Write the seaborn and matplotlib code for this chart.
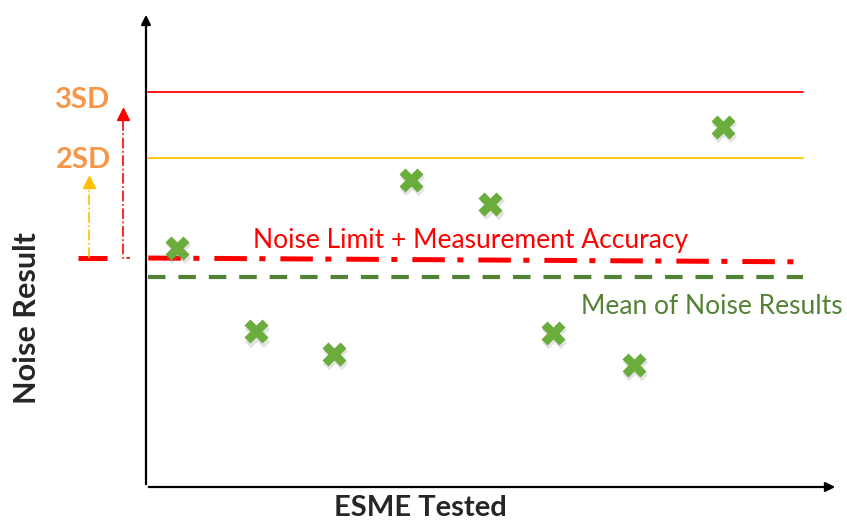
import matplotlib.pyplot as plt
import seaborn as sns
import pandas as pd

# Noise results for each ESME tested (arbitrary units, axis runs 0-10)
esme_index = [0.39, 1.40, 2.39, 3.37, 4.38, 5.17, 6.20, 7.34]
noise_result = [5.03, 3.28, 2.80, 6.46, 5.96, 3.24, 2.57, 7.58]

# Reference levels
level_3sd = 8.32
level_2sd = 6.93
noise_limit = [4.82, 4.74]   # limit + measurement accuracy (start, end)
mean_noise = 4.42
line_span = [0.03, 8.36]

RED = '#ff0000'
AMBER = '#ffc000'
ORANGE = '#f79646'
DARK_GREEN = '#548235'
MARK_GREEN = '#6aad3d'

sns.set_theme(style='white')
plt.rcParams['font.family'] = ['Lato', 'DejaVu Sans']

fig = plt.figure(figsize=(8.47, 5.26), dpi=100)
ax = fig.add_axes([146 / 847, 39 / 526, 692 / 847, 475 / 526])
ax.set_xlim(0, 8.8)
ax.set_ylim(0, 10)
for s in ax.spines.values():
    s.set_visible(False)
ax.set_xticks([])
ax.set_yticks([])

# axes with arrow heads
ax.annotate('', xy=(0, 1), xytext=(0, 0), xycoords='axes fraction',
            arrowprops=dict(arrowstyle='-|>', lw=1.6, color='black', mutation_scale=14))
ax.annotate('', xy=(1, 0), xytext=(0, 0), xycoords='axes fraction',
            arrowprops=dict(arrowstyle='-|>', lw=1.6, color='black', mutation_scale=14))

# SD lines
ax.plot(line_span, [level_3sd, level_3sd], color=RED, lw=1.3)
ax.plot(line_span, [level_2sd, level_2sd], color=AMBER, lw=1.3)

# noise limit and mean
ax.plot(line_span, noise_limit, color=RED, lw=3.6, dashes=(6.5, 2.5, 1.2, 3), solid_capstyle='butt')
ax.plot(line_span, [mean_noise, mean_noise], color=DARK_GREEN, lw=3, dashes=(4.2, 3.1))

# markers with soft shadow
df = pd.DataFrame({'esme': esme_index, 'noise': noise_result})
shadow = df.assign(esme=df['esme'] + 0.015, noise=df['noise'] - 0.07)
sns.scatterplot(data=shadow, x='esme', y='noise', marker='X', s=330, color='grey',
                alpha=0.22, linewidth=0, ax=ax, zorder=3)
sns.scatterplot(data=df, x='esme', y='noise', marker='X', s=300, color=MARK_GREEN,
                linewidth=0, ax=ax, zorder=4)
ax.set_xlabel('')
ax.set_ylabel('')

# left-hand SD arrows
ax.plot([-0.87, -0.50], [noise_limit[0], noise_limit[0]], color=RED, lw=3.6,
        solid_capstyle='butt', clip_on=False)
ax.plot([-0.73, -0.73], [noise_limit[0], 6.30], color=AMBER, lw=1.2,
        linestyle='-.', clip_on=False)
ax.plot([-0.73], [6.43], marker='^', markersize=9, color=AMBER, clip_on=False)
ax.plot([-0.29, -0.29, -0.20], [7.72, noise_limit[0], noise_limit[0]], color=RED,
        lw=1.2, linestyle='-.', clip_on=False)
ax.plot([-0.29], [7.85], marker='^', markersize=9, color=RED, clip_on=False)

ax.text(-0.80, 8.15, '3SD', color=ORANGE, fontsize=21, fontweight='bold',
        ha='center', va='center', clip_on=False)
ax.text(-0.80, 6.88, '2SD', color=ORANGE, fontsize=21, fontweight='bold',
        ha='center', va='center', clip_on=False)
ax.text(4.13, 5.18, 'Noise Limit + Measurement Accuracy', color=RED, fontsize=19,
        ha='center', va='center')
ax.text(7.20, 3.79, 'Mean of Noise Results', color=DARK_GREEN, fontsize=19,
        ha='center', va='center', clip_on=False)

fig.text(27 / 847, 1 - 318 / 526, 'Noise Result', rotation=90, fontsize=22,
         fontweight='bold', ha='center', va='center')
fig.text(420 / 847, 1 - 508 / 526, 'ESME Tested', fontsize=21,
         fontweight='bold', ha='center', va='center')

fig.savefig('out.png', dpi=100, facecolor='white')
